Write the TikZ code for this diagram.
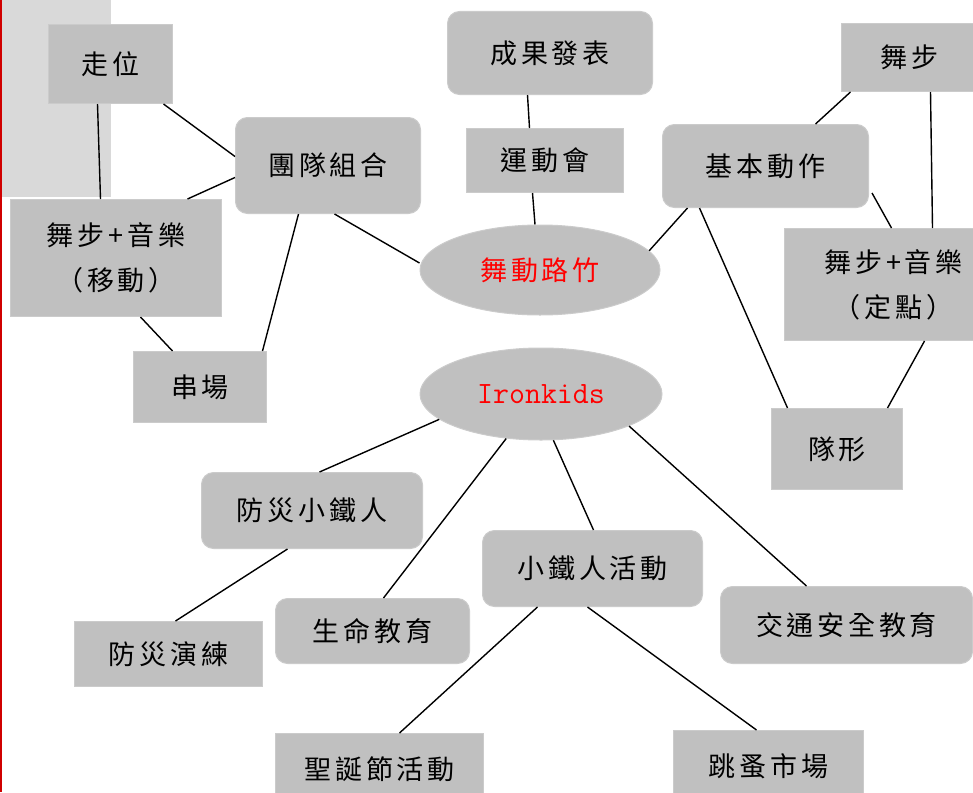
\documentclass[tikz,border=0pt]{standalone}
\usepackage{fontspec}
\setmainfont{Noto Sans CJK TC}[LetterSpace=14]
\usetikzlibrary{shapes.geometric}
\definecolor{boxgray}{HTML}{C0C0C0}
\definecolor{edgegray}{HTML}{CBCBCB}
\definecolor{bggray}{HTML}{D9D9D9}
\definecolor{edgered}{HTML}{D00000}
\begin{document}
\begin{tikzpicture}[x=1pt,y=-1pt,
  sq/.style={fill=boxgray, draw=edgegray, line width=1pt, inner sep=0pt, anchor=north west,
             font=\fontsize{27}{45}\selectfont, align=center},
  rb/.style={sq, rounded corners=12pt},
  el/.style={ellipse, fill=boxgray, draw=edgegray, line width=1pt, inner sep=0pt},
  ln/.style={line width=1.4pt, black}]
\useasboundingbox (0,0) rectangle (973,792);
\fill[bggray] (0,0) rectangle (111,197);
\draw[edgered, line width=1.5pt] (0.75,0) -- (0.75,792);

% boxes
\node[sq, minimum width=124pt, minimum height=79pt] (zouwei) at (48,24) {走位};
\node[rb, minimum width=185pt, minimum height=96pt] (tuandui) at (235,117) {團隊組合};
\node[sq, minimum width=211pt, minimum height=117pt] (yidong) at (10,199) {舞步+音樂\\（移動）};
\node[sq, minimum width=133pt, minimum height=71pt] (chuan) at (133,351) {串場};
\node[rb, minimum width=205pt, minimum height=83pt] (chengguo) at (447,11) {成果發表};
\node[sq, minimum width=157pt, minimum height=64pt] (yundong) at (466,128) {運動會};
\node[rb, minimum width=206pt, minimum height=83pt] (jiben) at (662,124) {基本動作};
\node[sq, minimum width=136pt, minimum height=68pt] (wubu) at (841,23) {舞步};
\node[sq, minimum width=218pt, minimum height=112pt] (dingdian) at (784,228) {舞步+音樂\\（定點）};
\node[sq, minimum width=131pt, minimum height=81pt] (duixing) at (771,408) {隊形};
\node[el, minimum width=240pt, minimum height=90pt, text=red, font=\fontsize{27}{30}\selectfont] (wudong) at (540,270) {舞動路竹};
\node[el, minimum width=242pt, minimum height=92pt, text=red, font=\fontsize{31}{32}\selectfont\ttfamily] (iron) at (541,394) {Ironkids};
\node[rb, minimum width=221pt, minimum height=76pt] (fangzai) at (201,472) {防災小鐵人};
\node[rb, minimum width=194pt, minimum height=65pt] (shengming) at (275,598) {生命教育};
\node[sq, minimum width=188pt, minimum height=65pt] (yanlian) at (74,621) {防災演練};
\node[rb, minimum width=220pt, minimum height=76pt] (xiaotie) at (482,530) {小鐵人活動};
\node[rb, minimum width=252pt, minimum height=77pt] (jiaotong) at (720,586) {交通安全教育};
\node[sq, minimum width=190pt, minimum height=72pt] (tiaozao) at (673,730) {跳蚤市場};
\node[sq, minimum width=208pt, minimum height=72pt] (shengdan) at (275,733) {聖誕節活動};

% connectors
\draw[ln] ([xshift=-13pt]zouwei.south) -- ([xshift=-15.5pt]yidong.north);
\draw[ln] ([xshift=53pt]zouwei.south) -- ([yshift=9pt]tuandui.west);
\draw[ln] ([yshift=-12pt]tuandui.west) -- ([xshift=71.5pt]yidong.north);
\draw[ln] ([xshift=-29.5pt]tuandui.south) -- ([xshift=62.5pt]chuan.north);
\draw[ln] ([xshift=6.5pt]tuandui.south) -- ([yshift=7pt]wudong.west);
\draw[ln] ([xshift=24.5pt]yidong.south) -- ([xshift=-27.5pt]chuan.north);
\draw[ln] ([xshift=-22.5pt]chengguo.south) -- ([xshift=-15.5pt]yundong.north);
\draw[ln] ([xshift=-12.5pt]yundong.south) -- ([xshift=-5pt]wudong.north);
\draw[ln] (wudong.10) -- ([xshift=-78pt]jiben.south);
\draw[ln] ([xshift=-59pt]wubu.south) -- ([xshift=50pt]jiben.north);
\draw[ln] ([xshift=21pt]wubu.south) -- ([xshift=39pt]dingdian.north);
\draw[ln] ([xshift=3pt,yshift=-27pt]jiben.east) -- ([xshift=-2pt]dingdian.north);
\draw[ln] ([xshift=-66pt]jiben.south) -- ([xshift=-49.5pt]duixing.north);
\draw[ln] ([xshift=31pt]dingdian.south) -- ([xshift=50.5pt]duixing.north);
\draw[ln] (iron.194) -- ([xshift=7.5pt]fangzai.north);
\draw[ln] ([xshift=-24.5pt]fangzai.south) -- ([xshift=7pt]yanlian.north);
\draw[ln] (iron.232) -- ([xshift=11pt]shengming.north);
\draw[ln] (iron.-75) -- ([xshift=1pt]xiaotie.north);
\draw[ln] (iron.-20) -- ([xshift=-40pt]jiaotong.north);
\draw[ln] ([xshift=-55pt]xiaotie.south) -- ([xshift=20pt]shengdan.north);
\draw[ln] ([xshift=-5pt]xiaotie.south) -- ([xshift=-12pt]tiaozao.north);
\end{tikzpicture}
\end{document}
